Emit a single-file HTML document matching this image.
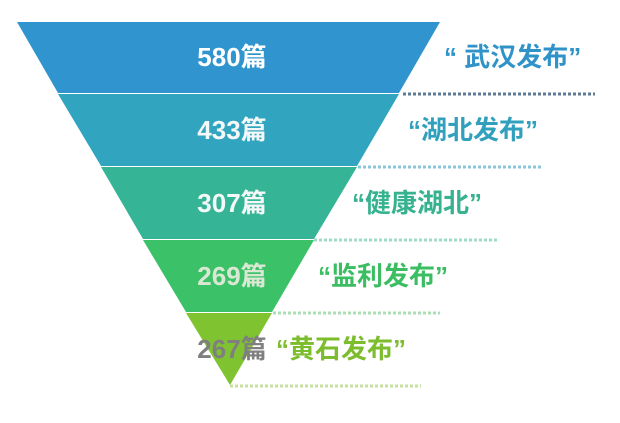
<!DOCTYPE html>
<html><head><meta charset="utf-8"><style>
html,body{margin:0;padding:0;background:#fff;}
svg{display:block;}
text{font-family:"Liberation Sans","Noto Sans CJK SC",sans-serif;font-weight:bold;}
</style></head><body>
<svg width="620" height="423" viewBox="0 0 620 423">
<polygon points="17,22 440,22 399,93 58,93" fill="#3094cf"/>
<polygon points="58,94 399,94 357,166 101,166" fill="#31a5c0"/>
<polygon points="101,167 357,167 314,239 143,239" fill="#36b596"/>
<polygon points="143,240 314,240 272,312 186,312" fill="#3bc168"/>
<polygon points="186,313 272,313 230,385" fill="#80c330"/>
<g stroke-width="3" stroke-dasharray="3,2" fill="none">
<line x1="403" y1="94" x2="595" y2="94" stroke="#5d7a96"/>
<line x1="358" y1="167" x2="543" y2="167" stroke="#8cc6da"/>
<line x1="314" y1="240" x2="497" y2="240" stroke="#9fdcc4"/>
<line x1="273" y1="313" x2="440" y2="313" stroke="#a9e0b3"/>
<line x1="230" y1="386" x2="421" y2="386" stroke="#c4e29c"/>
</g>
<g font-size="26" text-anchor="middle">
<text x="232" y="66" fill="#fff">580篇</text>
<text x="232" y="139" fill="#f4f8f8">433篇</text>
<text x="232" y="212" fill="#f4f8f8">307篇</text>
<text x="232" y="285" fill="#d8e8d2">269篇</text>
<text x="232" y="358" fill="#7f7f7f">267篇</text>
</g>
<g font-size="26">
<text x="444" y="66" fill="#2f93c9">“ 武汉发布”</text>
<text x="408" y="139" fill="#31a0bd">“湖北发布”</text>
<text x="352" y="212" fill="#36b28f">“健康湖北”</text>
<text x="318" y="285" fill="#3bbd62">“监利发布”</text>
<text x="276" y="358" fill="#7cbd2e">“黄石发布”</text>
</g>
</svg>
</body></html>
